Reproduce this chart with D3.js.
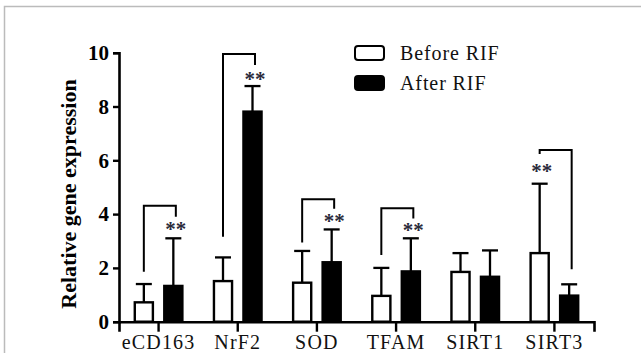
<!DOCTYPE html>
<html>
<head>
<meta charset="utf-8">
<title>Relative gene expression</title>
<style>
  body { margin: 0; background: #fff; }
  svg text { font-family: "Liberation Serif", "DejaVu Serif", serif; }
</style>
</head>
<body>
<script src="https://cdn.jsdelivr.net/npm/d3@7/dist/d3.min.js"></script>
<script>
// data
var genes   = ["eCD163", "NrF2", "SOD", "TFAM", "SIRT1", "SIRT3"];
var groups  = ["Before RIF", "After RIF"];
var before  = [0.72, 1.51, 1.45, 0.96, 1.85, 2.55];
var beforeErr = [1.40, 2.39, 2.63, 2.00, 2.55, 5.13];
var after   = [1.33, 7.81, 2.21, 1.87, 1.67, 0.97];
var afterErr  = [3.10, 8.76, 3.43, 3.10, 2.65, 1.39];
var yTicks  = [0, 2, 4, 6, 8, 10];

// significance brackets: gene, top, left leg end, right leg end, star side, star level
var sigGenes = ["eCD163", "NrF2", "SOD", "TFAM", "SIRT3"];
var sigTop   = [4.31, 9.95, 4.55, 4.22, 6.38];
var sigLeft  = [1.86, 3.16, 2.94, 2.48, 6.23];
var sigRight = [3.90, 9.54, 4.20, 3.84, 1.95];
var sigSide  = ["After RIF", "After RIF", "After RIF", "After RIF", "Before RIF"];
var sigStar  = [3.53, 9.11, 3.82, 3.47, 5.67];

var W = 641, H = 353;
var svg = d3.select("body").append("svg")
  .attr("width", W).attr("height", H);

// outer frame (top and left edge only)
svg.append("path")
  .attr("d", "M4.5," + H + "V6.5H" + W)
  .attr("fill", "none").attr("stroke", "#bbb").attr("stroke-width", 1.5);

var x0 = d3.scaleBand().domain(genes).range([119, 594]).padding(0);
var x1 = d3.scaleBand().domain(groups).range([-25, 25]).paddingInner(0.305);
var y = d3.scaleLinear().domain([0, 10]).range([321.7, 52.7]);

function cx(g, grp) { return x0(g) + x0.bandwidth() / 2 + x1(grp) + x1.bandwidth() / 2; }

var rows = genes.map(function(g, i) {
  return [
    { gene: g, grp: groups[0], v: before[i], e: beforeErr[i] },
    { gene: g, grp: groups[1], v: after[i],  e: afterErr[i] }
  ];
});
var flat = [].concat.apply([], rows);

// error bars (upper only)
var eb = svg.append("g").attr("stroke", "#000").attr("stroke-width", 2.3);
eb.selectAll("line.v").data(flat).enter().append("line")
  .attr("x1", function(d){ return cx(d.gene, d.grp); })
  .attr("x2", function(d){ return cx(d.gene, d.grp); })
  .attr("y1", function(d){ return y(d.v); })
  .attr("y2", function(d){ return y(d.e); });
eb.selectAll("line.c").data(flat).enter().append("line")
  .attr("x1", function(d){ return cx(d.gene, d.grp) - 8; })
  .attr("x2", function(d){ return cx(d.gene, d.grp) + 8; })
  .attr("y1", function(d){ return y(d.e); })
  .attr("y2", function(d){ return y(d.e); });

// bars
svg.append("g").selectAll("rect").data(flat).enter().append("rect")
  .attr("x", function(d){ return x0(d.gene) + x0.bandwidth() / 2 + x1(d.grp) + 1.2; })
  .attr("width", x1.bandwidth() - 2.4)
  .attr("y", function(d){ return y(d.v); })
  .attr("height", function(d){ return y(0) - y(d.v); })
  .attr("fill", function(d){ return d.grp === groups[0] ? "#fff" : "#000"; })
  .attr("stroke", "#000").attr("stroke-width", 2.4);

// brackets
var br = svg.append("g").attr("fill", "none").attr("stroke", "#000").attr("stroke-width", 2);
sigGenes.forEach(function(g, i) {
  var xl = cx(g, groups[0]), xr = cx(g, groups[1]) + 2.5;
  br.append("path")
    .attr("d", "M" + xl + "," + y(sigLeft[i]) + "V" + y(sigTop[i]) + "H" + xr + "V" + y(sigRight[i]));
  var sx = sigSide[i] === groups[0] ? xl + 2 : xr;
  svg.append("text")
    .attr("x", sx).attr("y", y(sigStar[i]) + 9)
    .attr("text-anchor", "middle")
    .attr("font-size", 21).attr("font-weight", "bold").attr("fill", "#2a2a3a")
    .text("**");
});

// axes
var yAxis = svg.append("g").attr("transform", "translate(119,0)")
  .call(d3.axisLeft(y).tickValues(yTicks).tickSize(6).tickPadding(4));
var xAxis = svg.append("g").attr("transform", "translate(0," + y(0) + ")")
  .call(d3.axisBottom(x0).tickSize(10).tickPadding(3));
[yAxis, xAxis].forEach(function(a) {
  a.select(".domain").attr("stroke", "#000").attr("stroke-width", 2.6);
  a.selectAll(".tick line").attr("stroke", "#000").attr("stroke-width", 2.4);
});
yAxis.selectAll(".tick text")
  .attr("font-size", 21).attr("font-weight", "bold").attr("fill", "#000");
xAxis.selectAll(".tick text")
  .attr("font-size", 20).attr("letter-spacing", 1.2).attr("fill", "#111");

// y title
svg.append("text")
  .attr("transform", "translate(76,194) rotate(-90)")
  .attr("text-anchor", "middle")
  .attr("font-size", 22).attr("font-weight", "bold")
  .text("Relative gene expression");

// legend
var lg = svg.append("g").selectAll("g").data(groups).enter().append("g")
  .attr("transform", function(d, i){ return "translate(355," + (46 + i * 30) + ")"; });
lg.append("rect")
  .attr("width", 29).attr("height", 14).attr("rx", 3)
  .attr("fill", function(d, i){ return i ? "#000" : "#fff"; })
  .attr("stroke", "#000").attr("stroke-width", 2);
lg.append("text")
  .attr("x", 45).attr("y", 13.5)
  .attr("font-size", 20).attr("letter-spacing", 0.9).attr("fill", "#111")
  .text(function(d){ return d; });
</script>
</body>
</html>
